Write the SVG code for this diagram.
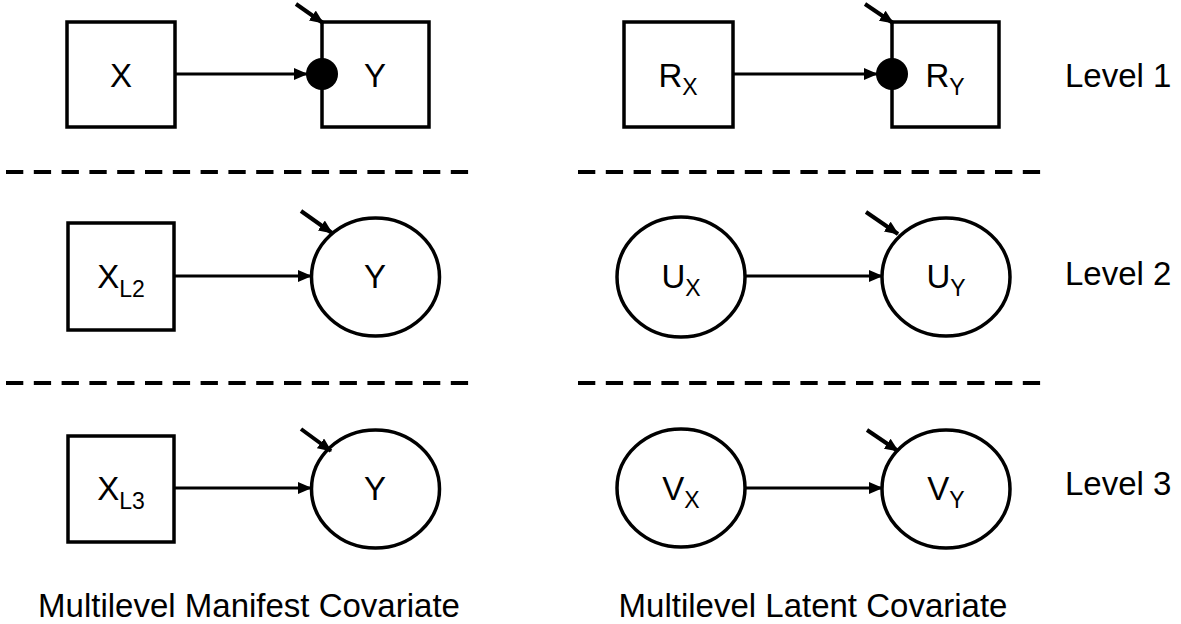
<svg xmlns="http://www.w3.org/2000/svg" width="1181" height="624" viewBox="0 0 1181 624">
<defs>
<marker id="ah" markerUnits="userSpaceOnUse" markerWidth="15" markerHeight="13" refX="13" refY="6" orient="auto">
<path d="M0,0 L14,6 L0,12 z" fill="#000"/>
</marker>
</defs>
<style>
.box{fill:#fff;stroke:#000;stroke-width:3.5}
.lat{fill:#fff;stroke:#000;stroke-width:3.5}
.dot{fill:#000;stroke:none}
.lbl{font-family:"Liberation Sans",Arial,sans-serif;font-size:33px;fill:#000;text-anchor:middle}
.sub{font-size:23px}
.side{font-family:"Liberation Sans",Arial,sans-serif;font-size:33px;fill:#000}
.edge{stroke:#000;stroke-width:3;fill:none;marker-end:url(#ah)}
.res{stroke:#000;stroke-width:4;fill:none;marker-end:url(#ah)}
.sep{stroke:#000;stroke-width:4;stroke-dasharray:17.3 10.5;fill:none}
</style>
<rect width="1181" height="624" fill="#fff"/>
<g id="separators">
<line class="sep" x1="6" y1="172" x2="470" y2="172"/>
<line class="sep" x1="578" y1="172" x2="1042" y2="172"/>
<line class="sep" x1="6" y1="383" x2="470" y2="383"/>
<line class="sep" x1="578" y1="383" x2="1042" y2="383"/>
</g>
<g id="node-X1"><rect class="box" x="67" y="22" width="108" height="105"/><text class="lbl" x="121" y="87">X</text></g>
<g id="node-Y1"><rect class="box" x="322" y="22" width="107" height="105"/><text class="lbl" x="375" y="87">Y</text></g>
<g id="node-RX"><rect class="box" x="624" y="22" width="109" height="105"/><text class="lbl" x="678" y="87">R<tspan class="sub" dy="8">X</tspan></text></g>
<g id="node-RY"><rect class="box" x="892" y="22" width="107" height="105"/><text class="lbl" x="945" y="87">R<tspan class="sub" dy="8">Y</tspan></text></g>
<g id="node-XL2"><rect class="box" x="68" y="223" width="106" height="107"/><text class="lbl" x="121" y="288">X<tspan class="sub" dy="9">L2</tspan></text></g>
<g id="node-Y2"><ellipse class="lat" cx="375.5" cy="277" rx="64" ry="59"/><text class="lbl" x="375" y="288">Y</text></g>
<g id="node-UX"><ellipse class="lat" cx="681" cy="277" rx="64" ry="60"/><text class="lbl" x="681" y="288">U<tspan class="sub" dy="8">X</tspan></text></g>
<g id="node-UY"><ellipse class="lat" cx="946" cy="277" rx="64" ry="59"/><text class="lbl" x="946" y="288">U<tspan class="sub" dy="8">Y</tspan></text></g>
<g id="node-XL3"><rect class="box" x="68" y="436" width="106" height="106"/><text class="lbl" x="121" y="500">X<tspan class="sub" dy="9">L3</tspan></text></g>
<g id="node-Y3"><ellipse class="lat" cx="375.5" cy="489" rx="64" ry="59"/><text class="lbl" x="375" y="500">Y</text></g>
<g id="node-VX"><ellipse class="lat" cx="681" cy="488" rx="64" ry="59"/><text class="lbl" x="681" y="500">V<tspan class="sub" dy="8">X</tspan></text></g>
<g id="node-VY"><ellipse class="lat" cx="946" cy="489" rx="64" ry="59"/><text class="lbl" x="946" y="500">V<tspan class="sub" dy="8">Y</tspan></text></g>
<g id="connectors">
<line class="edge" x1="175" y1="74" x2="307" y2="74"/>
<line class="edge" x1="733" y1="74" x2="877" y2="74"/>
<line class="edge" x1="174" y1="276" x2="311" y2="276"/>
<line class="edge" x1="745" y1="276" x2="882" y2="276"/>
<line class="edge" x1="174" y1="488" x2="311" y2="488"/>
<line class="edge" x1="745" y1="488" x2="882" y2="488"/>
<line class="res" x1="296" y1="4" x2="323" y2="23"/>
<line class="res" x1="865" y1="4" x2="893" y2="23"/>
<line class="res" x1="301" y1="211" x2="332" y2="233"/>
<line class="res" x1="866" y1="212" x2="898" y2="234"/>
<line class="res" x1="301" y1="429" x2="331" y2="451"/>
<line class="res" x1="867" y1="430" x2="898" y2="451"/>
</g>
<g id="node-dot1"><circle class="dot" cx="322" cy="74" r="16"/></g>
<g id="node-dot2"><circle class="dot" cx="892" cy="74" r="16"/></g>
<g id="labels">
<text class="side" x="1065" y="87">Level 1</text>
<text class="side" x="1065" y="285">Level 2</text>
<text class="side" x="1065" y="495">Level 3</text>
<text class="lbl" x="249" y="617">Multilevel Manifest Covariate</text>
<text class="lbl" x="813" y="617">Multilevel Latent Covariate</text>
</g>
</svg>
